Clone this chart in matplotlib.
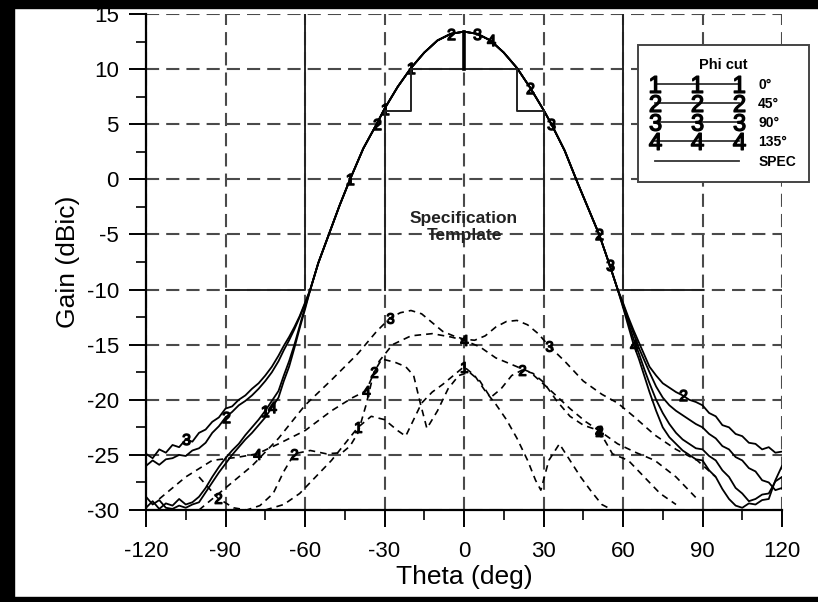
import numpy as np
import matplotlib.pyplot as plt
from matplotlib.lines import Line2D
from matplotlib.patches import Rectangle
from matplotlib.ticker import MultipleLocator

plt.rcParams['font.family'] = ['Liberation Sans', 'DejaVu Sans']
plt.rcParams['axes.unicode_minus'] = False
plt.rcParams['mathtext.fontset'] = 'custom'
plt.rcParams['mathtext.rm'] = 'Liberation Sans'
plt.rcParams['mathtext.bf'] = 'Liberation Sans:bold'

# main beam, the four co-pol cuts lie on top of each other here
beam_theta = [-58, -55, -51, -47, -43, -38, -33, -30, -25, -20, -15, -10, -5, 0,
              5, 10, 15, 20, 25, 30, 33, 38, 43, 47, 51, 55, 58]
beam_gain = [-10.0, -7.6, -5.0, -2.4, 0.0, 2.8, 5.0, 6.4, 8.4, 10.1, 11.5, 12.6, 13.2, 13.4,
             13.2, 12.6, 11.5, 10.1, 8.3, 6.3, 5.0, 2.6, -0.4, -2.7, -5.0, -7.8, -10.0]

# co-pol tails outside the beam
left_theta = [-120, -117.5, -115, -112.5, -110, -107.5, -105, -102.5, -100, -97.5, -95, -92.5,
              -90, -87.5, -85, -82.5, -80, -77.5, -75, -72.5, -70, -68, -66, -64, -62, -60]
right_theta = [60, 62, 64, 66, 68, 70, 72.5, 75, 77.5, 80, 82.5, 85, 87.5, 90, 92.5, 95,
               97.5, 100, 102.5, 105, 107.5, 110, 112.5, 115, 117.5, 120]

co1_left = [-29.8, -29.2, -29.9, -29.4, -29.6, -29.0, -29.5, -29.3, -28.8, -28.0, -27.0, -26.1,
            -25.3, -24.6, -24.0, -23.2, -22.5, -21.8, -21.0, -20.1, -19.2, -17.8, -16.5, -15.0, -13.3, -11.6]
co2_left = [-26.0, -25.5, -25.9, -25.4, -25.3, -25.0, -25.1, -24.6, -24.4, -23.9, -23.0, -22.4,
            -21.6, -21.1, -20.5, -20.1, -19.6, -19.0, -18.3, -17.5, -16.5, -15.5, -14.6, -13.6, -12.5, -11.3]
co3_left = [-24.9, -25.3, -24.5, -24.8, -24.1, -24.3, -23.6, -23.8, -23.0, -22.7, -22.0, -21.6,
            -20.8, -20.6, -20.0, -19.6, -19.0, -18.5, -17.8, -17.0, -16.0, -15.1, -14.3, -13.4, -12.4, -11.2]
co4_left = [-28.8, -29.5, -29.1, -29.8, -29.9, -29.6, -29.8, -29.5, -29.3, -28.4, -27.5, -26.6,
            -25.8, -25.0, -24.3, -23.6, -23.0, -22.3, -21.6, -20.7, -19.8, -18.3, -17.0, -15.3, -13.5, -11.8]

co1_right = [-11.5, -13.0, -14.5, -15.8, -17.2, -18.5, -20.0, -21.2, -22.2, -23.0, -23.6, -24.0,
             -24.4, -24.5, -25.1, -25.5, -26.4, -27.0, -28.0, -28.5, -29.2, -29.0, -28.6, -28.5, -27.4, -27.0]
co2_right = [-11.2, -12.5, -13.7, -14.8, -15.9, -17.0, -17.8, -18.5, -18.9, -19.3, -19.6, -20.0,
             -20.2, -20.5, -21.2, -21.5, -22.3, -22.5, -23.1, -23.3, -23.9, -24.0, -24.5, -24.3, -24.8, -24.7]
co3_right = [-11.3, -12.7, -14.0, -15.3, -16.4, -17.5, -18.8, -19.8, -20.5, -21.0, -21.4, -21.8,
             -22.2, -22.5, -23.1, -23.5, -24.2, -24.5, -25.2, -25.5, -26.2, -26.5, -27.3, -27.5, -28.2, -28.0]
co4_right = [-11.6, -13.3, -15.0, -16.3, -17.8, -19.3, -21.0, -22.5, -23.4, -24.0, -24.6, -25.0,
             -25.4, -25.5, -26.4, -27.0, -28.1, -29.0, -29.6, -29.8, -29.4, -29.5, -29.1, -29.0, -27.3, -26.0]

# cross-pol cuts (dashed)
x1_theta = [-75, -68, -62, -56, -50, -45, -40, -35, -30, -25, -22, -19, -16, -12, -8, -4, 0,
            4, 8, 12, 16, 20, 24, 27, 29, 32, 36, 40, 44, 48, 52, 56]
x1_gain = [-30.0, -29.5, -28.5, -27.0, -25.5, -24.0, -22.5, -21.5, -21.8, -22.8, -23.3, -21.8, -20.3,
           -19.3, -18.6, -17.8, -17.0, -17.8, -19.2, -20.4, -21.8, -23.5, -25.5, -27.3, -28.2, -25.5,
           -24.0, -25.5, -27.0, -28.3, -29.5, -30.0]
x2_theta = [-100, -93, -87, -82, -77, -72, -68, -64, -58, -52, -46, -43, -40, -37, -34, -31, -26,
            -22, -19, -16.5, -14, -10, -6, -2, 2, 6, 10, 14, 18, 22, 26, 30, 35, 40, 45, 51, 56,
            62, 68, 74, 80]
x2_gain = [-27.0, -28.9, -29.8, -30.0, -29.6, -28.5, -26.5, -24.9, -24.6, -24.9, -24.8, -24.2, -23.0,
           -20.5, -17.5, -16.3, -16.6, -17.0, -17.8, -20.3, -22.6, -21.0, -19.0, -17.8, -17.5, -18.3,
           -19.8, -19.0, -17.8, -17.3, -17.6, -18.4, -20.1, -21.5, -22.3, -22.8, -24.9, -25.5, -27.0,
           -28.5, -29.5]
x3_theta = [-100, -90, -80, -70, -60, -50, -40, -33, -28, -24, -20, -16, -12, -8, -4, 0, 4, 8,
            12, 16, 20, 24, 28, 32, 38, 45, 52, 58, 64, 72, 80, 88, 95]
x3_gain = [-30.0, -28.0, -26.0, -23.5, -20.5, -18.2, -15.8, -13.8, -12.6, -12.1, -11.9, -12.2, -13.0,
           -13.8, -14.2, -14.5, -14.6, -14.2, -13.4, -12.9, -12.8, -13.2, -14.0, -15.1, -16.5, -18.3,
           -19.5, -20.3, -21.5, -23.2, -24.5, -25.5, -27.0]
x4_theta = [-115, -105, -95, -85, -78, -70, -60, -50, -42, -37, -32, -27, -20, -12, -5, 0, 6,
            12, 18, 25, 32, 40, 46, 51, 58, 65, 72, 80, 88]
x4_gain = [-29.0, -27.0, -25.5, -25.2, -24.9, -24.0, -22.8, -21.0, -19.8, -19.2, -16.5, -15.0, -14.2,
           -14.0, -14.3, -14.6, -15.2, -16.2, -16.8, -17.5, -19.0, -20.8, -22.0, -22.8, -24.0, -24.8,
           -25.5, -27.0, -29.0]

# specification template
spec_theta = [-90, -60, -60, np.nan, -30, -30, -20, -20, 20, 20, 30, 30, np.nan, 60, 60, 90]
spec_gain = [-10, -10, 15, np.nan, -10, 6.2, 6.2, 10, 10, 6.2, 6.2, -10, np.nan, 15, -10, -10]
peak_theta = [0, 0]
peak_gain = [10, 13.4]

# where the cut numbers sit on each curve
co_marks = {1: [-75, -43, -30, -20], 2: [-90, -33, -5, 25, 51, 82.5],
            3: [-105, 5, 33, 55], 4: [-72.5, 10, 64]}
x_marks = {1: [-40, 0], 2: [-93, -64, -34, 22, 51], 3: [-28, 32], 4: [-78, -37, 0, 51]}

phi_labels = ['0°', '45°', '90°', '135°']


def mark_idx(theta, where):
    theta = np.asarray(theta, dtype=float)
    return [int(np.argmin(np.abs(theta - w))) for w in where]


def digit(n):
    return r'$%d$' % n


fig = plt.figure(figsize=(8.18, 6.02), dpi=100)
ax = fig.add_axes([146 / 818, 1 - 510 / 602, 636 / 818, 496 / 602])

ax.set_xlim(-120, 120)
ax.set_ylim(-30, 15)
ax.xaxis.set_major_locator(MultipleLocator(30))
ax.xaxis.set_minor_locator(MultipleLocator(15))
ax.yaxis.set_major_locator(MultipleLocator(5))
ax.yaxis.set_minor_locator(MultipleLocator(2.5))
ax.grid(True, which='major', color='#4a4a4a', lw=1.5, ls=(0, (6.3, 3.4)))
ax.set_axisbelow(True)
for s in ['top', 'right']:
    ax.spines[s].set_visible(False)
for s in ['left', 'bottom']:
    ax.spines[s].set_linewidth(1.6)
ax.tick_params(which='major', direction='out', length=12.5, width=1.4, labelsize=16)
ax.tick_params(axis='x', which='major', pad=10)
ax.tick_params(axis='y', which='major', pad=7)
ax.tick_params(which='minor', direction='out', length=7, width=1.2)

lefts = [co1_left, co2_left, co3_left, co4_left]
rights = [co1_right, co2_right, co3_right, co4_right]
for k in range(4):
    th = left_theta + beam_theta + right_theta
    g = lefts[k] + beam_gain + rights[k]
    ax.plot(th, g, color='black', lw=1.3, marker=digit(k + 1), markersize=8,
            markevery=mark_idx(th, co_marks[k + 1]))

x_th = [x1_theta, x2_theta, x3_theta, x4_theta]
x_g = [x1_gain, x2_gain, x3_gain, x4_gain]
for k in range(4):
    ax.plot(x_th[k], x_g[k], color='black', lw=1.2, ls=(0, (4.0, 3.0)),
            marker=digit(k + 1), markersize=7.5, markevery=mark_idx(x_th[k], x_marks[k + 1]))

ax.plot(spec_theta, spec_gain, color='#222222', lw=1.4)
ax.plot(peak_theta, peak_gain, color='black', lw=2.6)

ax.text(0, -4.3, 'Specification\nTemplate', ha='center', va='center', fontsize=12.5,
        fontweight='bold', color='#222222', linespacing=1.15)

ax.set_xlabel('Theta (deg)', fontsize=19, labelpad=2)
ax.set_ylabel('Gain (dBic)', fontsize=19, labelpad=5)

handles = [Line2D([], [], color='#333333', lw=1.3, marker=digit(k + 1),
                  markersize=12, markerfacecolor='black', markeredgecolor='black')
           for k in range(4)]
handles.append(Line2D([], [], color='#333333', lw=1.3))
leg = ax.legend(handles, phi_labels + ['SPEC'], title='Phi cut', loc='upper left',
                bbox_to_anchor=(0.7736, 0.9374), borderaxespad=0, numpoints=3,
                handlelength=6.6, handletextpad=1.1, labelspacing=0.38, fontsize=10,
                title_fontsize=10.5, fancybox=False, framealpha=1, edgecolor='#444444',
                borderpad=0.95)
leg.get_frame().set_linewidth(1.4)
leg.get_title().set_fontweight('bold')
for t in leg.get_texts():
    t.set_fontweight('bold')

# black scan border
fig.add_artist(Rectangle((0, 0), 14 / 818, 1, transform=fig.transFigure, color='black'))
fig.add_artist(Rectangle((0, 1 - 8 / 602), 1, 8 / 602, transform=fig.transFigure, color='black'))
fig.add_artist(Rectangle((0, 0), 1, 5 / 602, transform=fig.transFigure, color='black'))

fig.savefig('out.png', dpi=100)
